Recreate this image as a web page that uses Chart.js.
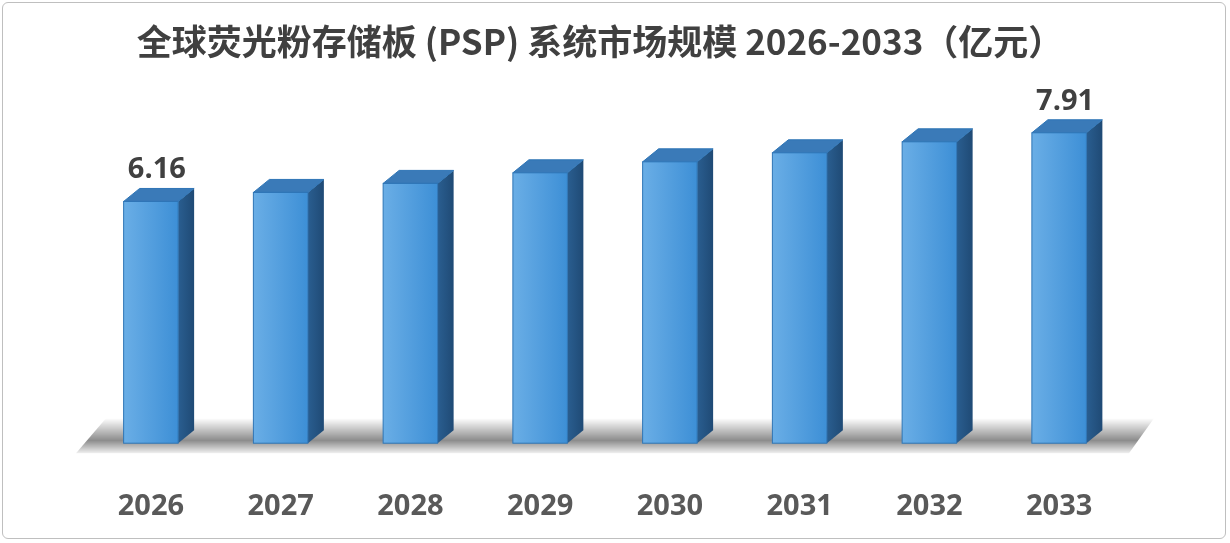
<!DOCTYPE html><html><head><meta charset="utf-8"><script src="https://cdn.jsdelivr.net/npm/chart.js@4"></script>
<style>html,body{margin:0;background:#fff}#w{position:absolute;left:2px;top:2px;width:1224px;height:537px;border:1px solid #bfbfbf;border-radius:6px;box-sizing:border-box}</style></head><body>
<div id="w"></div><canvas id="c" width="1230" height="543" style="position:absolute;left:0;top:0"></canvas>
<script>
const categories=['2026','2027','2028','2029','2030','2031','2032','2033'];
const values=[6.16,6.39,6.62,6.89,7.17,7.40,7.68,7.91];
const shownLabels=[0,7];
const title='全球荧光粉存储板 (PSP) 系统市场规模 2026-2033（亿元）';
const DX=16,DY=13;
const plug={id:'p3d',
beforeDatasetsDraw(ch){const c=ch.ctx,a=ch.chartArea,b=a.bottom;
 c.save();const g=c.createLinearGradient(0,b-25,0,b+12);g.addColorStop(0,'rgba(0,0,0,0)');g.addColorStop(0.6,'rgba(0,0,0,0.45)');g.addColorStop(1,'rgba(0,0,0,0)');
 c.fillStyle=g;c.beginPath();c.moveTo(a.left-10,b+10);c.lineTo(a.left+20,b-25);c.lineTo(a.right+30,b-25);c.lineTo(a.right+5,b+10);c.closePath();c.fill();c.restore();},
afterDatasetsDraw(ch){const c=ch.ctx,m=ch.getDatasetMeta(0);c.save();
 m.data.forEach((e,i)=>{const w=e.width,l=e.x-w/2,r=e.x+w/2,t=e.y,bt=e.base;
  c.beginPath();c.moveTo(r,t);c.lineTo(r+DX,t-DY);c.lineTo(r+DX,bt-DY);c.lineTo(r,bt);c.closePath();
  const sg=c.createLinearGradient(r,0,r+DX,0);sg.addColorStop(0,'#2a5e90');sg.addColorStop(1,'#1f4a75');c.fillStyle=sg;c.fill();
  c.fillStyle='#3a7ab8';c.beginPath();c.moveTo(l,t);c.lineTo(l+DX,t-DY);c.lineTo(r+DX,t-DY);c.lineTo(r,t);c.closePath();c.fill();
  c.strokeStyle='#2e75b6';c.lineWidth=1;c.stroke();
  const fg=c.createLinearGradient(l,0,r,0);fg.addColorStop(0,'#6aaee6');fg.addColorStop(1,'#3d8fd6');c.fillStyle=fg;c.fillRect(l,t,w,bt-t);
  c.strokeStyle='#2e75b6';c.strokeRect(l,t,w,bt-t);
  if(shownLabels.includes(i)){c.fillStyle='#404040';c.font='bold 29px "Open Sans", "Noto Sans"';c.textAlign='center';c.textBaseline='bottom';c.fillText(values[i].toFixed(2),e.x+6,t-DY-4);}
 });
 c.fillStyle='#404040';c.font='bold 35px "Noto Sans CJK SC"';c.textAlign='center';c.textBaseline='middle';c.fillText(title,600,42);c.restore();}};
new Chart(document.getElementById('c'),{type:'bar',data:{labels:categories,datasets:[{data:values,backgroundColor:'rgba(0,0,0,0)',barPercentage:0.42,categoryPercentage:1}]},
options:{responsive:false,animation:false,layout:{padding:{left:86,right:106,top:90,bottom:-19}},
plugins:{legend:{display:false},tooltip:{enabled:false}},
scales:{y:{display:false,min:0,max:9},x:{grid:{display:false},border:{display:false},ticks:{padding:38,color:'#595959',font:{size:29,weight:'bold',family:'"Open Sans"'}}}}},plugins:[plug]});
</script></body></html>
